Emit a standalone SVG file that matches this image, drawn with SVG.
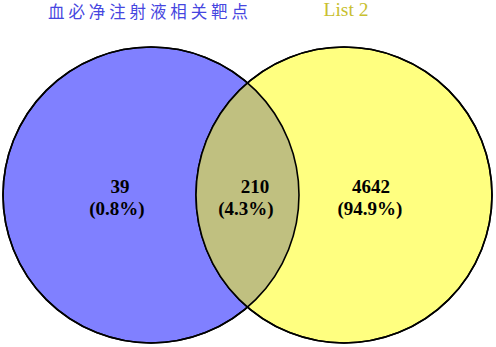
<svg xmlns="http://www.w3.org/2000/svg" width="496" height="347" viewBox="0 0 496 347">
<style>
.c{stroke:#000;stroke-width:1.6}
.n{font-family:"Liberation Serif","Times New Roman",serif;font-size:19px;font-weight:bold;fill:#000;text-anchor:middle}
</style>
<defs>
<clipPath id="clipL"><circle cx="151" cy="195" r="148"/></clipPath>
</defs>
<rect width="496" height="347" fill="#fff"/>
<g id="setA"><circle class="c" cx="151" cy="195" r="148" fill="#8080FF"/></g>
<g id="setB"><circle class="c" cx="344" cy="195" r="148" fill="#FFFF80"/></g>
<g id="overlap">
<circle cx="344" cy="195" r="148" fill="#C0C080" clip-path="url(#clipL)"/>
<circle cx="151" cy="195" r="148" fill="none" class="c"/>
<circle cx="344" cy="195" r="148" fill="none" class="c"/>
</g>
<g id="titleA"><text x="148" y="17.5" font-family="'Noto Sans CJK SC',sans-serif" font-size="16.5" fill="#4646E0" text-anchor="middle" textLength="200" lengthAdjust="spacing">血必净注射液相关靶点</text></g>
<g id="titleB"><text x="346" y="15.5" font-family="'Liberation Serif',serif" font-size="19.5" fill="#C8C030" text-anchor="middle">List 2</text></g>
<g id="labelA"><text class="n" x="120" y="193">39</text><text class="n" x="117" y="215">(0.8%)</text></g>
<g id="labelAB"><text class="n" x="255" y="193">210</text><text class="n" x="246" y="215">(4.3%)</text></g>
<g id="labelB"><text class="n" x="371" y="193">4642</text><text class="n" x="370" y="215">(94.9%)</text></g>
<g id="connectors"/>
</svg>
